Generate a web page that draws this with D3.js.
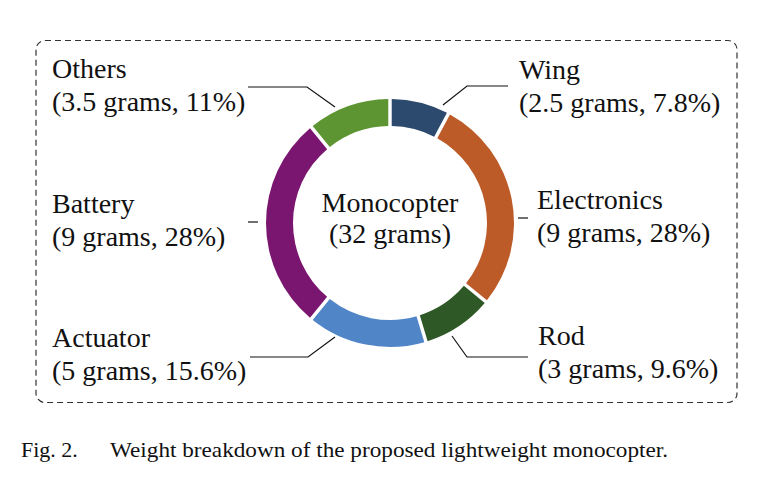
<!DOCTYPE html>
<html>
<head>
<meta charset="utf-8">
<script src="https://cdn.jsdelivr.net/npm/d3@7"></script>
<style>
  html, body { margin: 0; padding: 0; background: #fff; }
  svg { display: block; }
  text { font-family: "Liberation Serif", "Times New Roman", serif; fill: #111; }
</style>
</head>
<body>
<svg id="chart" width="760" height="503"></svg>
<script>
// ---- data ----
const categories = ["Wing", "Electronics", "Rod", "Actuator", "Battery", "Others"];
const grams      = [2.5, 9, 3, 5, 9, 3.5];
const percents   = ["7.8%", "28%", "9.6%", "15.6%", "28%", "11%"];
const colors     = ["#2b4a6e", "#bc5b28", "#2f5827", "#5086c8", "#7a166f", "#5c9532"];
const centerLabel = ["Monocopter", "(32 grams)"];
const caption = ["Fig. 2.", "Weight breakdown of the proposed lightweight monocopter."];

// ---- layout (annotation positions) ----
const cx = 390, cy = 223, outerR = 124, innerR = 97;
const fontSize = 28;
const labelLayout = {
  "Wing":        { x: 519, y1: 79,  y2: 112, leader: [[443,105],[467,86],[508,86]] },
  "Electronics": { x: 537, y1: 209, y2: 242, leader: [[518,218],[528,218]] },
  "Rod":         { x: 538, y1: 345, y2: 378, leader: [[452,336],[467,357],[528,357]] },
  "Actuator":    { x: 52,  y1: 347, y2: 380, leader: [[335,337],[308,357],[250,357]] },
  "Battery":     { x: 52,  y1: 213, y2: 246, leader: [[248,222],[258,222]] },
  "Others":      { x: 52,  y1: 78,  y2: 111, leader: [[335,107],[307,87],[248,87]] }
};

const svg = d3.select("#chart");

// dashed frame
svg.append("rect")
  .attr("x", 36).attr("y", 40.5).attr("width", 701).attr("height", 362)
  .attr("rx", 9).attr("ry", 9)
  .attr("fill", "none").attr("stroke", "#333").attr("stroke-width", 1.2)
  .attr("stroke-dasharray", "6,4");

const data = categories.map((c, i) => ({ name: c, value: grams[i], pct: percents[i], color: colors[i] }));

const pie = d3.pie().value(d => d.value).sort(null);
const arc = d3.arc().innerRadius(innerR).outerRadius(outerR).padAngle(0.022);

const g = svg.append("g").attr("transform", `translate(${cx},${cy})`);
g.selectAll("path.slice")
  .data(pie(data))
  .join("path")
  .attr("class", "slice")
  .attr("d", arc)
  .attr("fill", d => d.data.color);

// center label
g.selectAll("text.center")
  .data(centerLabel)
  .join("text")
  .attr("class", "center")
  .attr("text-anchor", "middle")
  .attr("x", 0)
  .attr("y", (d, i) => i === 0 ? -11 : 20)
  .attr("font-size", fontSize)
  .text(d => d);

// leaders
const line = d3.line();
svg.selectAll("path.leader")
  .data(data)
  .join("path")
  .attr("class", "leader")
  .attr("d", d => line(labelLayout[d.name].leader))
  .attr("fill", "none")
  .attr("stroke", "#111")
  .attr("stroke-width", 1.2);

// labels
const lbl = svg.selectAll("g.lbl").data(data).join("g").attr("class", "lbl");
lbl.append("text")
  .attr("x", d => labelLayout[d.name].x)
  .attr("y", d => labelLayout[d.name].y1)
  .attr("font-size", fontSize)
  .text(d => d.name);
lbl.append("text")
  .attr("x", d => labelLayout[d.name].x)
  .attr("y", d => labelLayout[d.name].y2)
  .attr("font-size", fontSize)
  .text(d => `(${d.value} grams, ${d.pct})`);

// caption
svg.append("text")
  .attr("x", 21).attr("y", 457)
  .attr("font-size", 22)
  .text(caption[0]);
svg.append("text")
  .attr("x", 110).attr("y", 457)
  .attr("font-size", 22)
  .attr("textLength", 558)
  .attr("lengthAdjust", "spacingAndGlyphs")
  .text(caption[1]);
</script>
</body>
</html>
